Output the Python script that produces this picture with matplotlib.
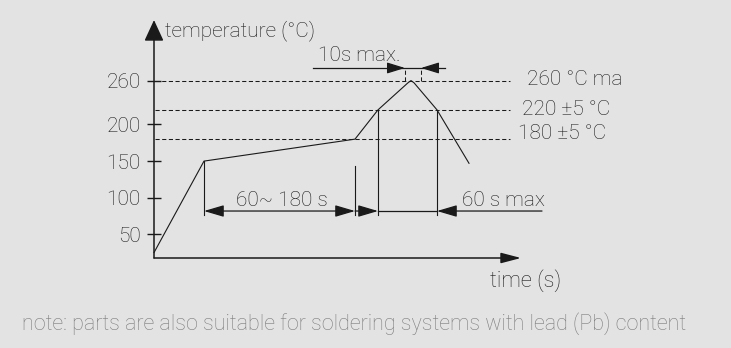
import matplotlib
matplotlib.use("Agg")
import matplotlib.pyplot as plt
from matplotlib import font_manager as fm

# ---------------- data ----------------
y_ticks = [50, 100, 150, 200, 260]
y_tick_labels = ["50", "100", "150", "200", "260"]

profile_time = [0, 50, 201, 224, 254, 257, 260, 283, 315]      # s (schematic)
profile_temp = [25, 150, 180, 220, 257, 260, 257, 220, 147]    # degC

level_values = [260, 220, 180]
level_labels = ["260 °C ma", "220 ±5 °C", "180 ±5 °C"]

preheat_start, preheat_end = 50, 201
reflow_start, reflow_end = 224, 283
peak_window = [251, 267]

y_label = "temperature (°C)"
x_label = "time (s)"
note = "note: parts are also suitable for soldering systems with lead (Pb) content"

# ---------------- style ----------------
names = {f.name for f in fm.fontManager.ttflist}
FONT = next((n for n in ["Roboto", "Liberation Sans", "DejaVu Sans"] if n in names), "DejaVu Sans")
plt.rcParams["font.family"] = [FONT, "DejaVu Sans"]
plt.rcParams["lines.scale_dashes"] = False

BG = "#e3e3e3"
INK = "#1a1a1a"
GREY = "#7c7c7c"
FS = 15.0
W_TXT = "light"

fig = plt.figure(figsize=(7.31, 3.48), dpi=100, facecolor=BG)
ax = fig.add_axes([154 / 731, 90 / 348, 577 / 731, 258 / 348])
ax.set_facecolor("none")
T0 = 12.9 / 0.732
ax.set_xlim(0, 577)
ax.set_ylim(T0, (258 + 12.9) / 0.732)
for s in ax.spines.values():
    s.set_visible(False)
ax.set_xticks([])
ax.set_yticks(y_ticks)
ax.set_yticklabels(y_tick_labels, fontsize=FS, color=INK, fontweight=W_TXT)
ax.tick_params(axis="y", direction="inout", length=9.4, width=1.0, pad=5, color=INK)


def arrow(tip, tail, hl=0.61, hw=0.18, lw=0.9):
    ax.annotate("", xy=tip, xytext=tail,
                arrowprops=dict(arrowstyle=f"-|>,head_length={hl},head_width={hw}",
                                shrinkA=0, shrinkB=0, lw=lw, color=INK,
                                mutation_scale=20),
                annotation_clip=False)


# axes with arrows
arrow((0, 342.7), (0, T0), hl=0.65, hw=0.3, lw=1.1)
arrow((367, T0), (0, T0), hl=0.61, hw=0.16, lw=1.1)

# dashed reference levels
dash = (0, (3.0, 1.8))
for v in level_values:
    ax.plot([1, 356], [v, v], color=INK, lw=0.75, linestyle=dash, clip_on=False)

# profile
ax.plot(profile_time, profile_temp, color=INK, lw=0.8, clip_on=False)

# extension lines
dim_T = 81.8
ext_bottom = 76.4
ax.plot([preheat_start] * 2, [profile_temp[1], ext_bottom], color=INK, lw=0.8)
ax.plot([preheat_end] * 2, [143, ext_bottom], color=INK, lw=0.8)
ax.plot([reflow_start] * 2, [220, ext_bottom], color=INK, lw=0.8)
ax.plot([reflow_end] * 2, [220, ext_bottom], color=INK, lw=0.8)

# bottom dimension
ax.annotate("", xy=(preheat_end, dim_T), xytext=(preheat_start, dim_T),
            arrowprops=dict(arrowstyle="<|-|>,head_length=0.61,head_width=0.18",
                            shrinkA=0, shrinkB=0, lw=0.9, color=INK, mutation_scale=20))
arrow((reflow_start, dim_T), (preheat_end, dim_T))
ax.plot([reflow_start, reflow_end], [dim_T, dim_T], color=INK, lw=0.9)
arrow((reflow_end, dim_T), (388, dim_T))

# top dimension (peak window)
top_T = 277.2
ax.plot([159, 291], [top_T, top_T], color=INK, lw=0.9)
arrow((peak_window[0], top_T), (236, top_T), hl=0.55, hw=0.17)
arrow((peak_window[1], top_T), (282, top_T), hl=0.55, hw=0.17)
for t in peak_window:
    ax.plot([t, t], [260, top_T], color=INK, lw=0.75, linestyle=dash)

# texts
tk = dict(color=INK, fontsize=FS, fontweight=W_TXT)
ax.text(128, 88.7, "60~ 180 s", ha="center", va="baseline", **tk)
ax.text(308, 88.7, "60 s max", ha="left", va="baseline", **tk)
ax.text(164, 286.7, "10s max.", ha="left", va="baseline", **tk)
for x, yb, lab in zip([373, 368, 364], [254, 213, 180.2], level_labels):
    ax.text(x, yb, lab, ha="left", va="baseline", **tk)
ax.text(11, 320.9, y_label, ha="left", va="baseline", **tk)
ax.text(336, -22, x_label, ha="left", va="baseline", clip_on=False,
        color=INK, fontsize=FS * 1.05, fontweight=W_TXT)

fig.text(22 / 731, 18 / 348, note, ha="left", va="baseline", color=GREY,
         fontsize=15.5, fontweight=W_TXT)

fig.savefig("out.png", dpi=100, facecolor=BG)
